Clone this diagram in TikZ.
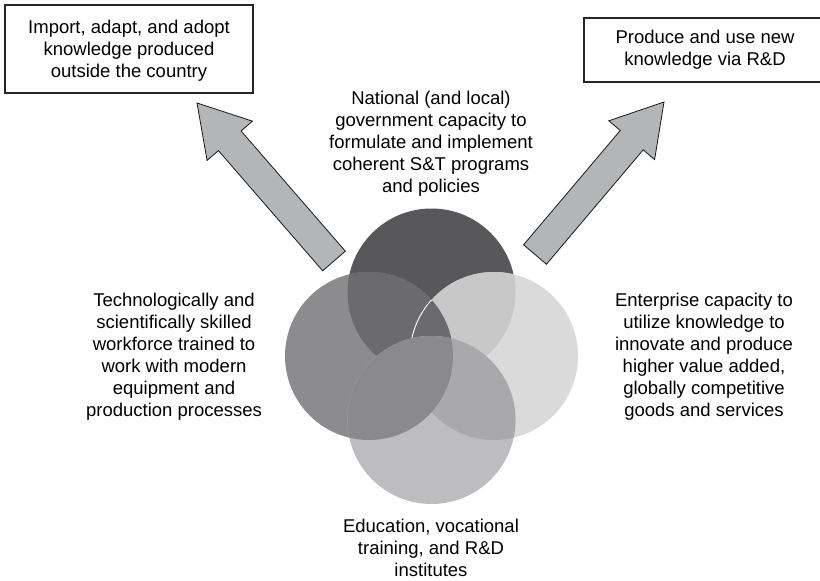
\documentclass[tikz,border=0pt]{standalone}
\usepackage{fontspec}
\setmainfont{Liberation Sans}
\usetikzlibrary{calc,positioning}

\definecolor{govgray}{HTML}{58585A}
\definecolor{workgray}{HTML}{8C8C8E}
\definecolor{firmgray}{HTML}{DADADB}
\definecolor{edugray}{HTML}{BDBDBF}
\definecolor{govwork}{HTML}{6B6B6D}
\definecolor{govfirm}{HTML}{C8C8C9}
\definecolor{eduwork}{HTML}{8A8A8C}
\definecolor{edufirm}{HTML}{A9A9AB}
\definecolor{arrowgray}{HTML}{B3B5B7}

\newcommand{\blockarrow}[2]{%
	\coordinate (#1-head) at ($(#2)!50pt!(#1)$);
	\draw[fatarrow] ($(#1)!15pt!90:(#2)$) -- ($(#1-head)!15pt!90:(#2)$) -- ($(#1-head)!30pt!90:(#2)$) -- (#2)
		-- ($(#1-head)!30pt!-90:(#2)$) -- ($(#1-head)!15pt!-90:(#2)$) -- ($(#1)!15pt!-90:(#2)$) -- cycle;}

\begin{document}
\begin{tikzpicture}[x=1pt, y=-1pt,
	every node/.style={font=\fontsize{18.5}{22}\selectfont, align=center, inner sep=0pt},
	box/.style={draw=black!85, line width=1.1pt, fill=white, minimum width=248pt, minimum height=88pt},
	label/.style={anchor=south, text depth=0pt},
	fatarrow/.style={draw=black!90, line width=0.8pt, fill=arrowgray, line join=miter}]

		\useasboundingbox (0,0) rectangle (820,581);

		\coordinate (gov) at (431.5,292.5);
		\coordinate (work) at (369,356);
		\coordinate (firm) at (494,356);
		\coordinate (edu) at (431.5,420);

		\fill[govgray] (gov) circle (84pt);
		\fill[firmgray] (firm) circle (84pt);
		\begin{scope}
			\clip (gov) circle (84pt);
			\fill[govfirm] (firm) circle (84pt);
		\end{scope}
		\fill[workgray] (work) circle (84pt);
		\begin{scope}
			\clip (gov) circle (84pt);
			\fill[govwork] (work) circle (84pt);
			\clip (work) circle (84pt);
			\draw[white, line width=0.9pt] (firm) circle (84pt);
		\end{scope}
		\fill[edugray] (edu) circle (84pt);
		\begin{scope}
			\clip (edu) circle (84pt);
			\fill[edufirm] (firm) circle (84pt);
			\fill[eduwork] (work) circle (84pt);
		\end{scope}

		\node[box, text depth=0pt] (import) at (129,49) {Import, adapt, and adopt\\knowledge produced\\outside the country};
		\node[box, minimum width=242pt, minimum height=64pt] (rnd) at (705,50) {Produce and use new\\knowledge via R\&D};

		\node[label] (govtext) at (431,193) {National (and local)\\government capacity to\\formulate and implement\\coherent S\&T programs\\and policies};
		\node[label] (worktext) at (174,417) {Technologically and\\scientifically skilled\\workforce trained to\\work with modern\\equipment and\\production processes};
		\node[label] (firmtext) at (704,417) {Enterprise capacity to\\utilize knowledge to\\innovate and produce\\higher value added,\\globally competitive\\goods and services};
		\node[label] (edutext) at (431,577) {Education, vocational\\training, and R\&D\\institutes};

		\coordinate (tailL) at (334,261);
		\coordinate (tipL) at (197,103);
		\coordinate (tailR) at (535,254.5);
		\coordinate (tipR) at (664,102);

		\blockarrow{tailL}{tipL}
		\blockarrow{tailR}{tipR}

		\end{tikzpicture}
\end{document}
